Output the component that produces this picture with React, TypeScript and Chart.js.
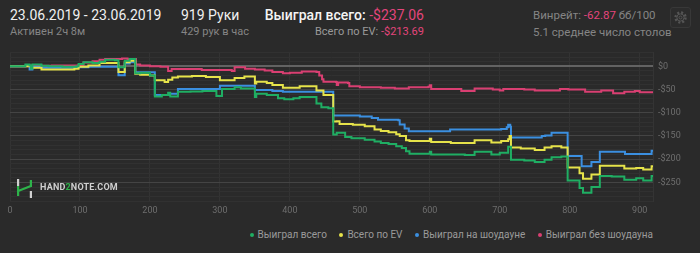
import React, { useEffect, useRef } from "react";
import { Chart, registerables } from "chart.js";

Chart.register(...registerables);

// ---- data ----
const GREEN_HANDS = [0,18,22,28,30,32,45,55,75,95,98,105,118,128,136,150,155,164,171,179,186,200,207,217,226,229,240,258,275,295,303,321,330,350,352,367,383,392,405,414,438,445,455,462,467,479,488,507,521,530,541,552,560,566,571,585,600,602,630,650,664,688,700,712,716,735,750,764,774,788,797,814,819,831,843,860,878,895,905,917,919];
const GREEN_VALUES = [0,0,4,2,-5,4,1,0,-1,0,5,9,7,10,14,13,-2,12,16,-15,-14,-20,-65,-62,-57,-65,-55,-54,-53,-64,-49,-45,-48,-66,-59,-62,-69,-71,-69,-66,-80,-88,-90,-147,-143,-152,-155,-158,-162,-165,-167,-172,-176,-183,-188,-188,-184,-190,-190,-191,-184,-190,-186,-173,-201,-203,-206,-201,-196,-194,-246,-262,-272,-260,-236,-237,-244,-241,-246,-236,-237.06];

const YELLOW_HANDS = [0,22,30,45,88,92,98,112,128,155,164,171,179,186,200,207,221,226,232,240,260,280,300,321,335,350,352,367,375,390,414,438,448,462,467,471,490,507,521,530,541,552,557,566,571,600,602,630,664,688,702,712,714,716,730,750,764,774,788,797,814,819,831,843,878,895,905,917,919];
const YELLOW_VALUES = [0,0,-3,-7,-7,-5,-1,2,7,-12,9,12,-16,-18,-20,-30,-34,-29,-24,-22,-21,-23,-30,-25,-22,-37,-33,-36,-40,-46,-43,-52,-62,-119,-118,-124,-126,-129,-136,-139,-142,-146,-150,-159,-161,-156,-163,-165,-159,-164,-161,-157,-150,-175,-177,-180,-175,-172,-175,-218,-230,-242,-233,-214,-220,-219,-222,-215,-213.69];

const BLUE_HANDS = [0,22,28,32,45,98,112,155,164,171,179,207,228,240,300,350,375,390,462,500,517,526,555,557,564,570,629,702,710,712,715,716,760,765,774,797,817,831,843,879,917,919];
const BLUE_VALUES = [0,1,-7,-1,-3,-2,-1,-19,6,9,-13,-62,-59,-49,-42,-51,-53,-55,-106,-108,-111,-115,-116,-125,-134,-140,-136,-135,-131,-126,-130,-153,-150,-149,-143,-193,-215,-206,-184,-189,-182,-182];

const PINK_HANDS = [0,25,30,60,98,105,118,128,136,160,168,176,180,186,200,215,226,231,250,274,295,317,321,336,350,364,375,390,400,417,438,442,446,448,466,467,469,483,485,500,530,550,570,598,600,602,645,664,690,700,705,735,750,786,798,822,845,862,878,893,900,919];
const PINK_VALUES = [0,0,1,2,3,8,11,14,16,17,15,16,4,2,0,-1,-10,-6,-6,-8,-8,-10,-2,-5,-7,-9,-12,-15,-14,-11,-12,-20,-28,-33,-34,-40,-35,-36,-43,-45,-46,-48,-45,-44,-41,-49,-53,-48,-50,-52,-49,-50,-52,-49,-50,-55,-52,-58,-55,-53,-56,-55];

const SERIES_LABELS = ["Выиграл всего", "Всего по EV", "Выиграл на шоудауне", "Выиграл без шоудауна"];
const SERIES_COLORS = ["#1fae63", "#e6e34a", "#3b8fe0", "#d93f72"];

const X_MIN = 0;
const X_MAX = 919;
const X_STEP = 100;
const Y_MIN = -290;
const Y_MAX = 30;
const Y_STEP = 10;
const Y_LABEL_EVERY = 50;

const HEADER = {
  dates: "23.06.2019 - 23.06.2019",
  active: "Активен 2ч 8м",
  hands: "919 Руки",
  perHour: "429 рук в час",
  wonLabel: "Выиграл всего: ",
  wonValue: "-$237.06",
  evLabel: "Всего по EV: ",
  evValue: "-$213.69",
  winrateLabel: "Винрейт: ",
  winrateValue: "-62.87",
  winrateUnit: " бб/100",
  tables: "5.1 среднее число столов",
};

const PINK_TEXT = "#e4457c";
const FONT = "Roboto, 'Noto Sans', sans-serif";

function pts(xs: number[], ys: number[]) {
  return xs.map((x, i) => ({ x, y: ys[i] }));
}

function fmtMoney(v: number) {
  const r = Math.round(v);
  if (r === 0) return "$0";
  return r < 0 ? "-$" + Math.abs(r) : "$" + r;
}

export default function App() {
  const canvasRef = useRef<HTMLCanvasElement>(null);

  useEffect(() => {
    const canvas = canvasRef.current;
    if (!canvas) return;
    const series = [
      pts(GREEN_HANDS, GREEN_VALUES),
      pts(YELLOW_HANDS, YELLOW_VALUES),
      pts(BLUE_HANDS, BLUE_VALUES),
      pts(PINK_HANDS, PINK_VALUES),
    ];
    const chart = new Chart(canvas, {
      type: "line",
      data: {
        datasets: series.map((d, i) => ({
          label: SERIES_LABELS[i],
          data: d,
          borderColor: SERIES_COLORS[i],
          backgroundColor: SERIES_COLORS[i],
          borderWidth: 2,
          pointRadius: 0,
          stepped: true,
          fill: false,
        })),
      },
      options: {
        responsive: false,
        animation: false,
        devicePixelRatio: 1,
        layout: { padding: { left: 10, top: 0, right: 0, bottom: 3 } },
        plugins: {
          legend: { display: false },
          tooltip: { enabled: false },
        },
        scales: {
          x: {
            type: "linear",
            min: X_MIN,
            max: X_MAX,
            afterFit: (s: any) => {
              s.height = 16;
            },
            border: { display: false },
            grid: { color: "#333333", drawTicks: false, lineWidth: 1 },
            ticks: {
              stepSize: X_STEP,
              includeBounds: false,
              padding: 4,
              maxRotation: 0,
              color: "#6e6e6e",
              font: { family: FONT, size: 9 },
            },
          },
          y: {
            position: "right",
            min: Y_MIN,
            max: Y_MAX,
            afterFit: (s: any) => {
              s.width = 47;
            },
            border: { display: true, color: "#343434" },
            grid: {
              drawTicks: false,
              color: (c: any) => {
                const v = Math.round(c.tick ? c.tick.value : 1);
                if (v === 0) return "#626262";
                if (v % Y_LABEL_EVERY === 0) return "#444444";
                return "#313131";
              },
              lineWidth: (c: any) => {
                const v = Math.round(c.tick ? c.tick.value : 1);
                return v === 0 ? 2 : 1;
              },
            },
            ticks: {
              stepSize: Y_STEP,
              autoSkip: false,
              padding: 5,
              color: "#6e6e6e",
              font: { family: FONT, size: 9 },
              callback: (v: any) => {
                const r = Math.round(Number(v));
                return r % Y_LABEL_EVERY === 0 ? fmtMoney(r) : "";
              },
            },
          },
        },
      },
    });
    return () => chart.destroy();
  }, []);

  const txt = (extra: React.CSSProperties): React.CSSProperties => ({
    position: "absolute",
    whiteSpace: "nowrap",
    fontFamily: FONT,
    ...extra,
  });

  return (
    <div
      style={{
        position: "fixed",
        left: 0,
        top: 0,
        width: 700,
        height: 253,
        background: "#2a2a2a",
        overflow: "hidden",
      }}
    >
      <div style={txt({ left: 10, top: 6, fontSize: 14, lineHeight: "18px", color: "#f0f0f0" })}>{HEADER.dates}</div>
      <div style={txt({ left: 10, top: 25, fontSize: 11, lineHeight: "14px", color: "#858585" })}>{HEADER.active}</div>
      <div style={txt({ left: 181, top: 6, fontSize: 14, lineHeight: "18px", color: "#f0f0f0" })}>{HEADER.hands}</div>
      <div style={txt({ left: 181, top: 25, fontSize: 11, lineHeight: "14px", color: "#858585" })}>{HEADER.perHour}</div>
      <div style={txt({ right: 276, top: 6, fontSize: 14, lineHeight: "18px", color: "#f4f4f4", fontWeight: 500 })}>
        {HEADER.wonLabel}
        <span style={{ color: PINK_TEXT, fontWeight: 400 }}>{HEADER.wonValue}</span>
      </div>
      <div style={txt({ right: 276, top: 25, fontSize: 11, lineHeight: "14px", color: "#9a9a9a" })}>
        {HEADER.evLabel}
        <span style={{ color: PINK_TEXT }}>{HEADER.evValue}</span>
      </div>
      <div style={txt({ left: 533, top: 8, fontSize: 11.5, lineHeight: "14px", color: "#858585" })}>
        {HEADER.winrateLabel}
        <span style={{ color: PINK_TEXT }}>{HEADER.winrateValue}</span>
        {HEADER.winrateUnit}
      </div>
      <div style={txt({ left: 533, top: 25, fontSize: 11.5, lineHeight: "14px", color: "#858585" })}>{HEADER.tables}</div>

      <div
        style={{
          position: "absolute",
          left: 670,
          top: 7,
          width: 19,
          height: 19,
          border: "1px solid #383838",
          borderRadius: 3,
          background: "#2c2c2c",
        }}
      >
        <svg width="19" height="19" viewBox="0 0 19 19">
          <circle cx="9.5" cy="9.5" r="5" fill="none" stroke="#555" strokeWidth="2.4" strokeDasharray="2 1.93" />
          <circle cx="9.5" cy="9.5" r="3.6" fill="none" stroke="#555" strokeWidth="1" />
          <circle cx="9.5" cy="9.5" r="1.5" fill="none" stroke="#555" strokeWidth="1" />
        </svg>
      </div>

      <canvas
        ref={canvasRef}
        width={700}
        height={178}
        style={{ position: "absolute", left: 0, top: 42, width: 700, height: 178 }}
      />

      <div style={{ position: "absolute", left: 16, top: 179 }}>
        <svg width="18" height="19" viewBox="0 0 18 19">
          <rect x="1" y="0" width="2.2" height="7" fill="#d0d0d0" />
          <path d="M2.1 7 L2.1 17 M2.1 12 L14.9 7" stroke="#2db34a" strokeWidth="2.2" fill="none" />
          <path d="M14.9 1 L14.9 8" stroke="#2db34a" strokeWidth="2.2" fill="none" />
          <rect x="13.8" y="12" width="2.2" height="7" fill="#d0d0d0" />
        </svg>
      </div>
      <div
        style={txt({
          left: 40,
          top: 182,
          fontSize: 9,
          lineHeight: "11px",
          fontWeight: 700,
          color: "#cfcfcf",
          letterSpacing: 0.2,
        })}
      >
        HAND<span style={{ color: "#2db34a" }}>2</span>NOTE.COM
      </div>

      <div
        style={{
          position: "absolute",
          right: 47,
          top: 228,
          display: "flex",
          alignItems: "center",
          gap: 12.5,
          fontFamily: FONT,
          fontSize: 10,
          lineHeight: "14px",
          color: "#9a9a9a",
          whiteSpace: "nowrap",
        }}
      >
        {SERIES_LABELS.map((label, i) => (
          <div key={label} style={{ display: "flex", alignItems: "center" }}>
            <span
              style={{
                display: "inline-block",
                width: 4,
                height: 4,
                borderRadius: 2,
                background: SERIES_COLORS[i],
                marginRight: 4,
              }}
            />
            {label}
          </div>
        ))}
      </div>
    </div>
  );
}
